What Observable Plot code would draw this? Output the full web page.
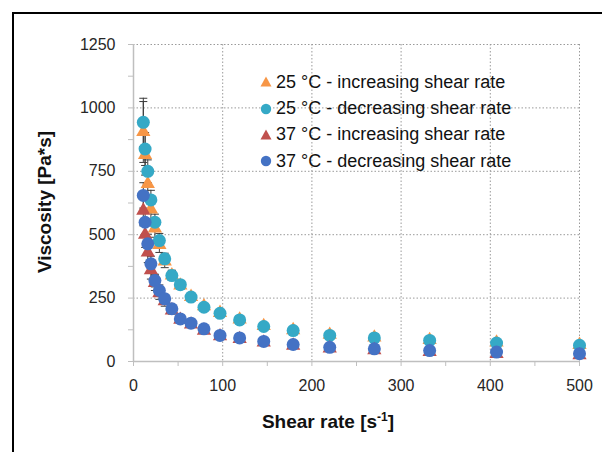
<!DOCTYPE html>
<html><head><meta charset="utf-8">
<script src="https://cdn.jsdelivr.net/npm/d3@7"></script>
<script src="https://cdn.jsdelivr.net/npm/@observablehq/plot@0.6"></script>
<style>
body{margin:0;background:#fff;}
#wrap{position:relative;width:602px;height:452px;overflow:hidden;font-family:"Liberation Sans",Arial,sans-serif;background:#fff;}
#border{position:absolute;left:12px;top:12px;width:640px;height:480px;border:2px solid #000;}
#chart{position:absolute;left:0;top:0;}
#legend{position:absolute;left:258px;top:69px;font-size:18px;color:#111;}
.item{height:26.4px;display:flex;align-items:center;white-space:nowrap;}
.item svg{margin-right:1px;}
#ytitle{position:absolute;left:45px;top:202px;transform:translate(-50%,-50%) rotate(-90deg);font-weight:bold;font-size:19px;white-space:nowrap;color:#111;}
#xtitle{position:absolute;left:328px;top:422px;transform:translate(-50%,-50%);font-weight:bold;font-size:19px;white-space:nowrap;color:#111;}
#xtitle sup{font-size:12px;vertical-align:7px;line-height:0;}
</style>
</head><body>
<div id="wrap">
  <div id="border"></div>
  <div id="chart"></div>
  <div id="legend"></div>
  <div id="ytitle">Viscosity [Pa*s]</div>
  <div id="xtitle">Shear rate [s<sup>-1</sup>]</div>
</div>
<script>
// ---- data ----
const shearRate = [11, 13, 16, 19.5, 24, 29, 35, 43, 52.5, 64.5, 79, 97, 119, 146, 179, 220, 270, 332, 407, 500];
const visc25Inc = [905, 815, 700, 600, 525, 460, 395, 340, 300, 255, 218, 192, 166, 140, 124, 106, 95, 85, 75, 66];
const visc25Dec = [943, 838, 750, 637, 549, 477, 405, 339, 303, 254, 214, 190, 164, 138, 122, 103, 93, 83, 73, 64];
const visc37Inc = [595, 500, 430, 360, 310, 270, 238, 202, 165, 146, 122, 100, 89, 75, 63, 52, 45, 38, 30, 25];
const visc37Dec = [655, 549, 464, 385, 319, 280, 247, 208, 168, 151, 129, 103, 93, 79, 67, 56, 50, 43, 37, 31];
const err25Inc = [120, 80, 60, 45, 35, 30, 25, 20, 15, 12, 10, 8, 6, 5, 5, 4, 4, 3, 3, 3];
const err25Dec = [95, 65, 45, 38, 32, 28, 22, 18, 14, 11, 9, 7, 6, 5, 4, 4, 3, 3, 3, 3];
const err37Inc = [60, 50, 40, 35, 30, 25, 20, 15, 12, 10, 8, 6, 5, 4, 4, 3, 3, 3, 2, 2];
const err37Dec = [50, 45, 38, 30, 25, 22, 18, 14, 12, 10, 8, 6, 5, 4, 4, 3, 3, 3, 2, 2];
const seriesNames = ["25 °C - increasing shear rate", "25 °C - decreasing shear rate", "37 °C - increasing shear rate", "37 °C - decreasing shear rate"];
const seriesColors = ["#F79646", "#35A9C6", "#C0504D", "#4472C4"];
const seriesSymbols = ["triangle", "circle", "triangle", "circle"];
const xTickLabels = [0, 100, 200, 300, 400, 500];
const xTickMarks = [0, 50, 100, 150, 200, 250, 300, 350, 400, 450, 500];
const yTickLabels = [0, 250, 500, 750, 1000, 1250];
const yTickMarks = [0, 125, 250, 375, 500, 625, 750, 875, 1000, 1125, 1250];

const valueSets = [visc25Inc, visc25Dec, visc37Inc, visc37Dec];
const errSets = [err25Inc, err25Dec, err37Inc, err37Dec];
const rows = [];
valueSets.forEach((vals, s) => vals.forEach((v, i) => rows.push({s, x: shearRate[i], y: v, e: errSets[s][i]})));

const cap = {draw(ctx, size){ const r = Math.sqrt(size/Math.PI); ctx.moveTo(-r,0); ctx.lineTo(r,0); }};

const marks = [
  Plot.gridX(xTickLabels.filter(v => v > 0), {stroke:"#9a9a9a", strokeOpacity:1, strokeDasharray:"1.5,2"}),
  Plot.gridY(yTickLabels.filter(v => v > 0), {stroke:"#9a9a9a", strokeOpacity:1, strokeDasharray:"1.5,2"}),
  Plot.ruleX([0], {stroke:"#bfbfbf", strokeWidth:1.5}),
  Plot.ruleY([0], {stroke:"#bfbfbf", strokeWidth:1.5}),
  Plot.axisX({ticks: xTickMarks, tickFormat: () => "", tickSize: 5, stroke: "#bfbfbf", label: null}),
  Plot.axisX({ticks: xTickLabels, tickFormat: d => String(d), tickSize: 0, tickPadding: 18, label: null, fontSize: 16}),
  Plot.axisY({ticks: yTickMarks, tickFormat: () => "", tickSize: 5, stroke: "#bfbfbf", label: null}),
  Plot.axisY({ticks: yTickLabels, tickFormat: d => String(d), tickSize: 0, tickPadding: 18, label: null, fontSize: 16}),
  Plot.ruleX(rows, {x: "x", y1: d => d.y - d.e, y2: d => d.y + d.e, stroke: "#3a3a3a", strokeWidth: 1}),
  Plot.dot(rows, {x: "x", y: d => d.y + d.e, symbol: cap, r: 4, stroke: "#3a3a3a", strokeWidth: 1}),
  Plot.dot(rows, {x: "x", y: d => d.y - d.e, symbol: cap, r: 4, stroke: "#3a3a3a", strokeWidth: 1})
];
[0,1,2,3].forEach(s => {
  marks.push(Plot.dot(rows.filter(d => d.s === s), {
    x: "x", y: "y", symbol: seriesSymbols[s], fill: seriesColors[s], stroke: "none",
    r: seriesSymbols[s] === "triangle" ? 5.3 : 6.5
  }));
});

const plot = Plot.plot({
  width: 602, height: 452,
  marginLeft: 133, marginRight: 23, marginTop: 44, marginBottom: 91,
  x: {domain: [0, 500]},
  y: {domain: [0, 1250]},
  style: {fontFamily: "'Liberation Sans', Arial, sans-serif", fontSize: "16px", color: "#262626", background: "transparent"},
  marks
});
document.getElementById("chart").appendChild(plot);

// legend
const leg = document.getElementById("legend");
seriesNames.forEach((name, s) => {
  const div = document.createElement("div");
  div.className = "item";
  const shape = seriesSymbols[s] === "triangle"
    ? `<polygon points="8,2.5 13.5,12.5 2.5,12.5" fill="${seriesColors[s]}"/>`
    : `<circle cx="8" cy="8" r="5.2" fill="${seriesColors[s]}"/>`;
  div.innerHTML = `<svg width="17" height="16">${shape}</svg><span>${name}</span>`;
  leg.appendChild(div);
});
</script>
</body></html>
